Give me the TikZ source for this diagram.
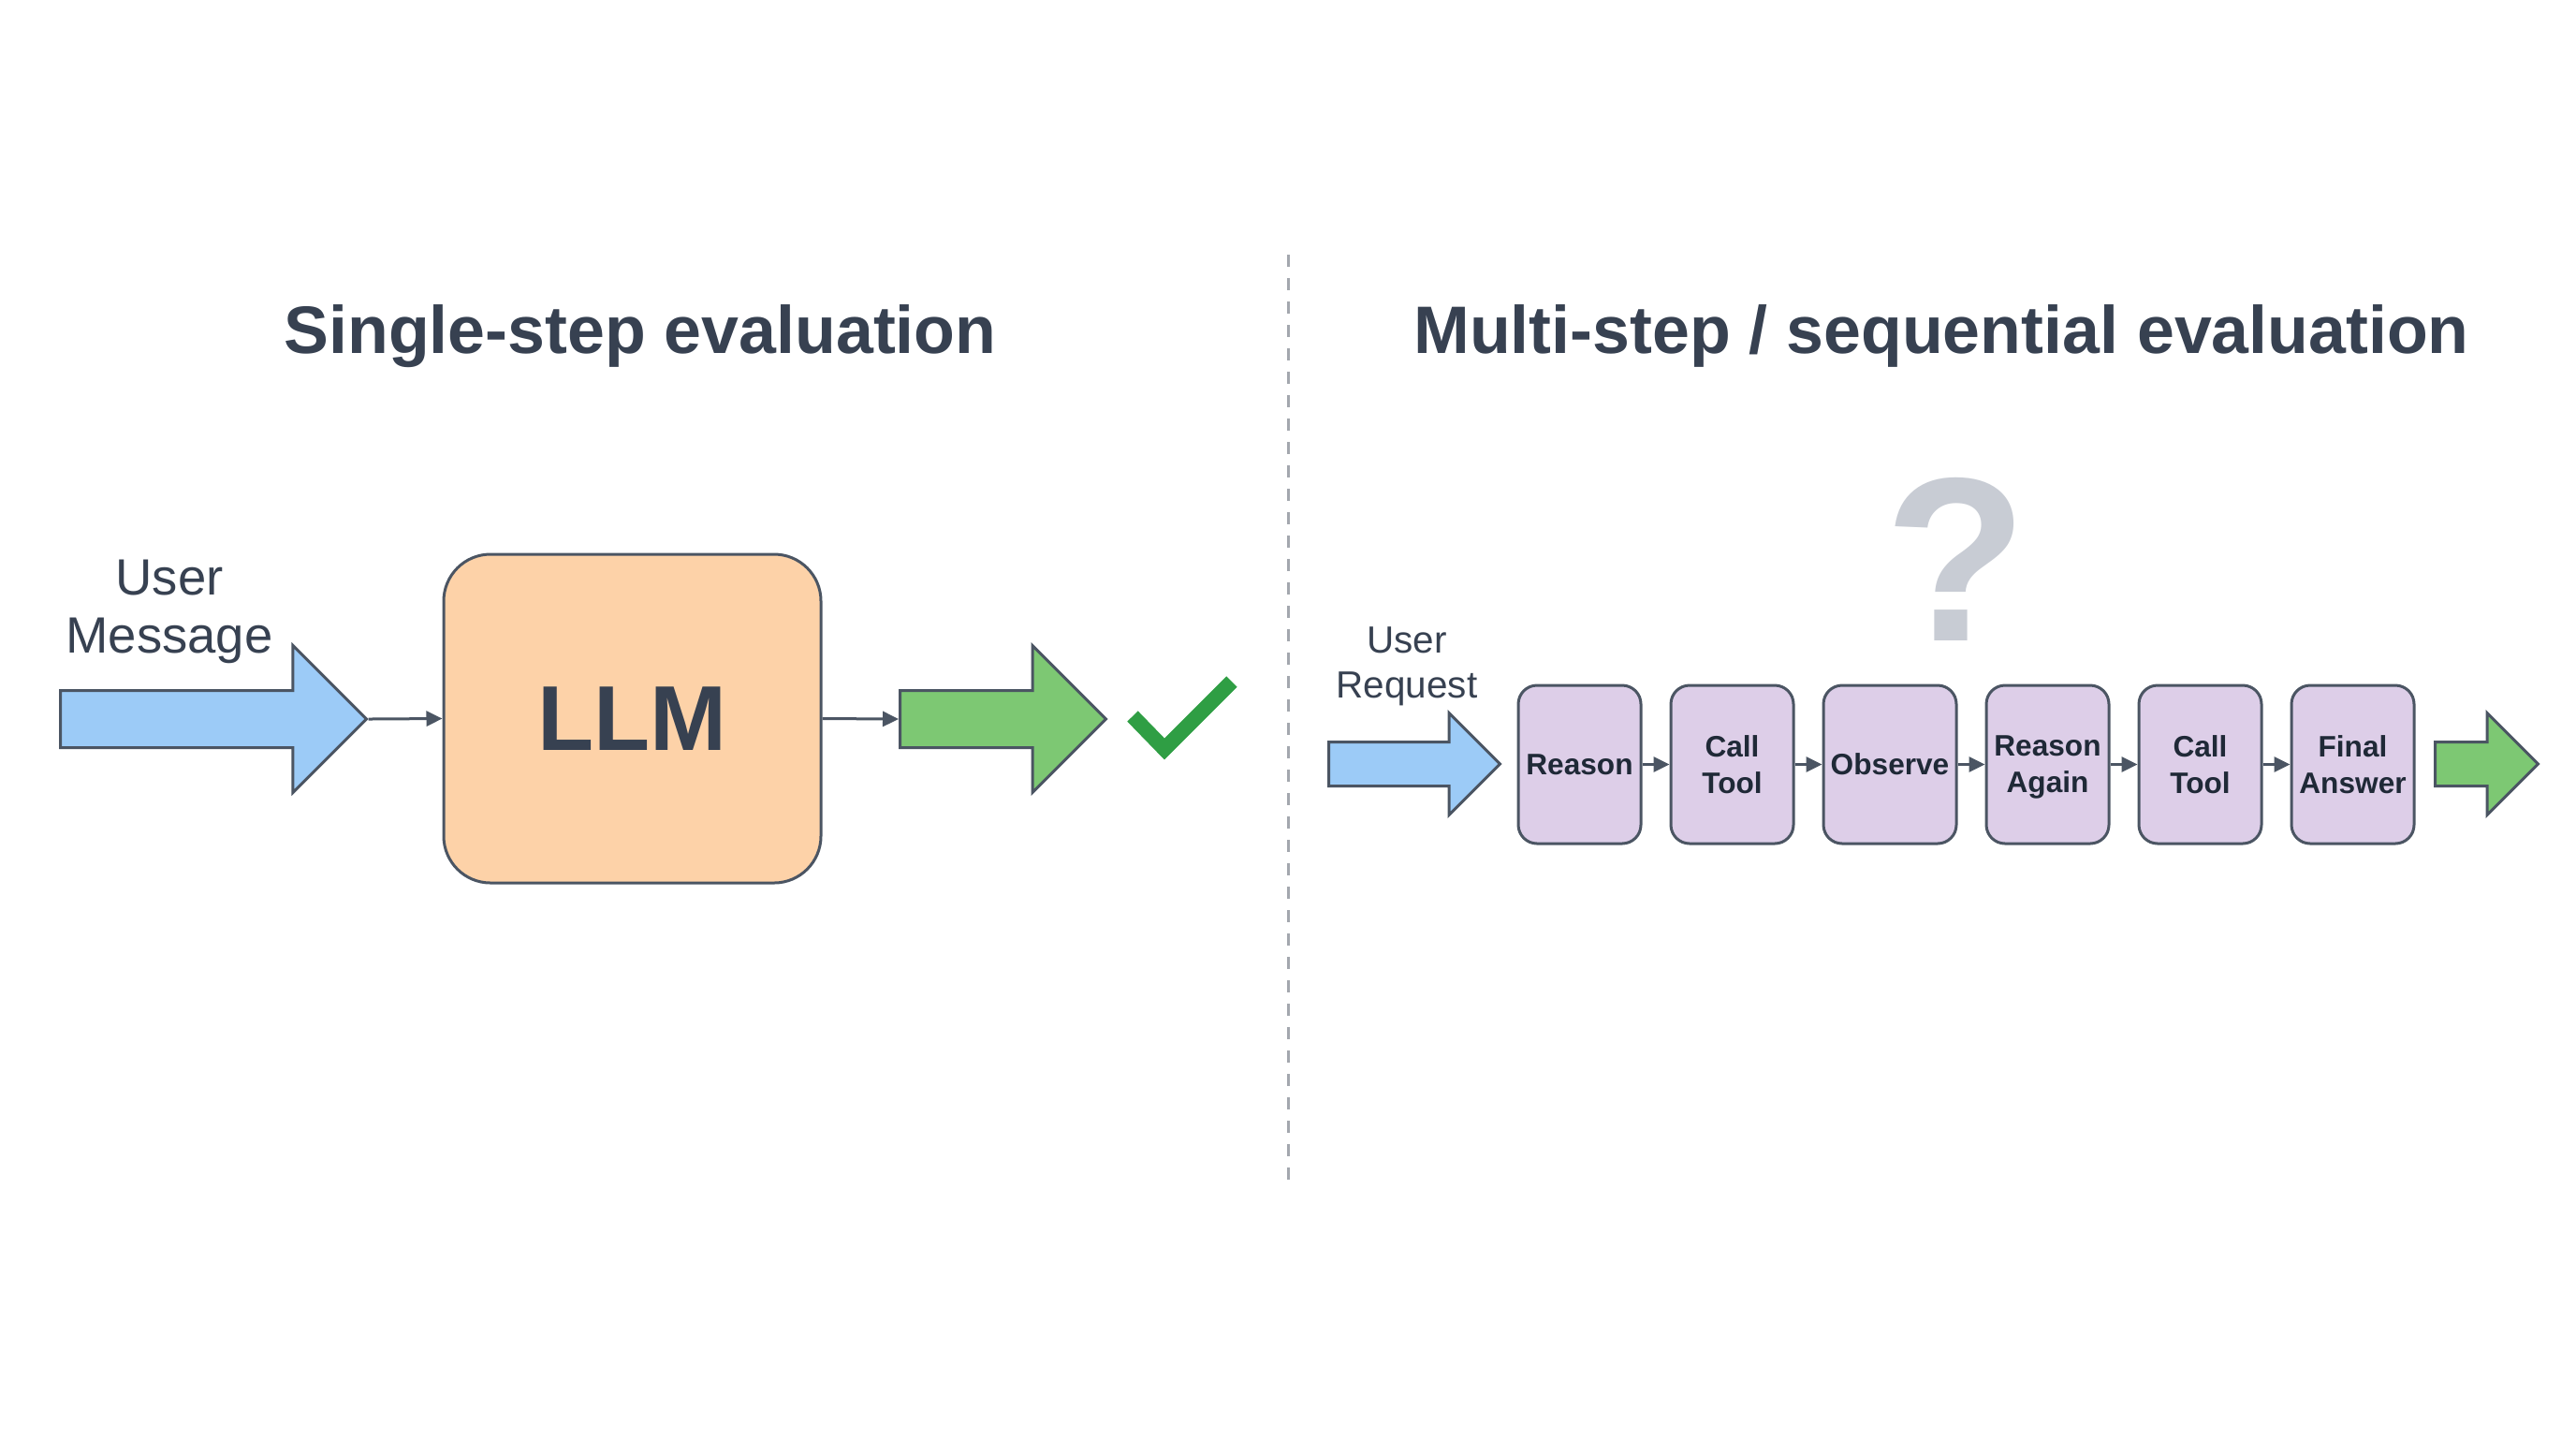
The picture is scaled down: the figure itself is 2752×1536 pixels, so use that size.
\documentclass[tikz,border=0pt]{standalone}
\usepackage{fontspec}
\setmainfont{Liberation Sans}
\usetikzlibrary{arrows.meta, positioning, shapes.arrows}

\definecolor{inkdark}{HTML}{374151}
\definecolor{inkbox}{HTML}{1F2937}
\definecolor{edgegray}{HTML}{4B5563}
\definecolor{bluefill}{HTML}{9CCBF7}
\definecolor{peachfill}{HTML}{FDD2A8}
\definecolor{greenfill}{HTML}{7DC873}
\definecolor{checkgreen}{HTML}{2F9E44}
\definecolor{stepfill}{HTML}{DDCEE8}
\definecolor{qgray}{HTML}{C8CCD4}
\definecolor{divgray}{HTML}{A3A7AE}

\begin{document}
\begin{tikzpicture}[
  x=0.1mm, y=-0.1mm,
  heading/.style={font=\fontsize{20.4}{24}\selectfont\bfseries,
                  text=inkdark, anchor=base},
  bigarrow/.style={single arrow, draw=edgegray, line width=0.3mm,
                   inner xsep=0pt, anchor=tail},
  link/.style={-{Triangle[length=1.7mm, width=1.6mm]},
               draw=edgegray, line width=0.3mm},
  stepbox/.style={draw=edgegray, line width=0.3mm, fill=stepfill,
                  rounded corners=2mm, minimum width=13.1mm,
                  minimum height=16.9mm, inner sep=0pt, text depth=0pt,
                  font=\fontsize{9}{11.1}\selectfont\bfseries,
                  text=inkbox, align=center},
  usertext/.style={text=inkdark, align=center}
]
\fill[white] (0,0) rectangle (2752,1536);
\useasboundingbox (0,0) rectangle (2752,1536);

% headings and divider
\node[heading] (single) at (684,377) {Single-step evaluation};
\node[heading] (multi)  at (2074,377) {Multi-step / sequential evaluation};
\coordinate (divtop) at (1376,272);
\coordinate (divbot) at (1376,1262);
\draw[divgray, line width=0.3mm, dash pattern=on 1.3mm off 1.2mm]
  (divtop) -- (divbot);

% single step
\node[draw=edgegray, line width=0.3mm, fill=peachfill,
      rounded corners=5mm, minimum width=40.3mm, minimum height=35.1mm,
      font=\fontsize{28}{32}\selectfont\bfseries, text=inkdark]
      (llm) at (675.5,767.5) {LLM};
\node[bigarrow, fill=bluefill, inner ysep=2.9mm,
      single arrow head extend=4.8mm, minimum height=32.7mm]
      (msgin) at (63,768) {};
\node[bigarrow, fill=greenfill, inner ysep=2.9mm,
      single arrow head extend=4.8mm, minimum height=22mm]
      (llmout) at (960,768) {};
\node[usertext, font=\fontsize{15.5}{17.6}\selectfont]
      (usermsg) at (181,653) {User\\Message};

\draw[link] (msgin.tip) -- (llm.west);
\draw[link] (llm.east) -- (llmout.tail);
\draw[checkgreen, line width=1.6mm] (1210,765) -- (1244,800) -- (1316,728);

% multi step
\node[usertext, font=\fontsize{11.5}{13.7}\selectfont]
      (userreq) at (1503,712) {User\\Request};
\node[font=\fontsize{71}{75}\selectfont\bfseries, text=qgray, anchor=base]
      (doubt) at (2090,684) {?};

\node[stepbox] (reason) at (1687.5,816.5) {Reason};
\node[stepbox, right=2.9mm of reason] (call1) {Call\\Tool};
\node[stepbox, right=2.9mm of call1, minimum width=14.2mm] (observe) {Observe};
\node[stepbox, right=2.9mm of observe] (reason2) {Reason\\Again};
\node[stepbox, right=2.9mm of reason2] (call2) {Call\\Tool};
\node[stepbox, right=2.9mm of call2] (final) {Final\\Answer};

\node[bigarrow, fill=bluefill, inner ysep=2.2mm,
      single arrow head extend=3.1mm, minimum height=18.3mm]
      (reqin) at (1418,816) {};
\node[bigarrow, fill=greenfill, inner ysep=2.2mm,
      single arrow head extend=3.1mm, minimum height=11mm]
      (answerout) at (2600,816) {};

\foreach \a/\b in {reason/call1, call1/observe, observe/reason2,
                   reason2/call2, call2/final}
  \draw[link] (\a) -- (\b);
\end{tikzpicture}
\end{document}
